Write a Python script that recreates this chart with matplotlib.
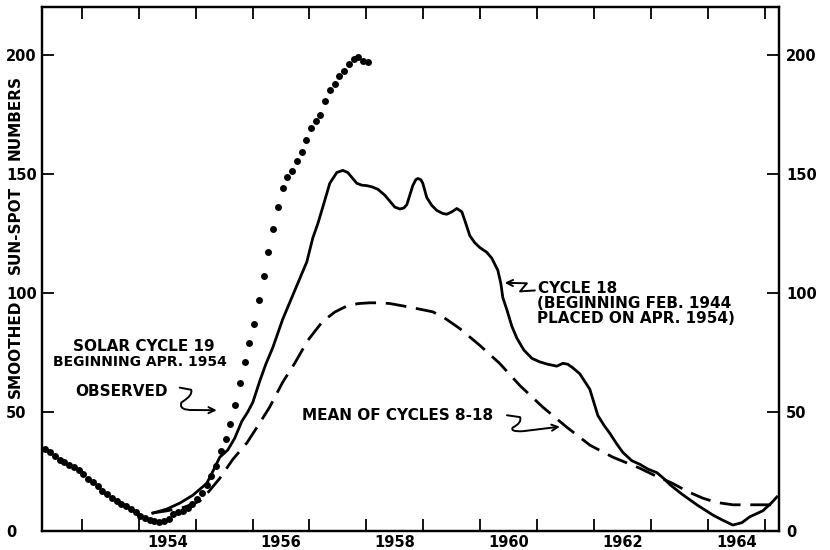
import numpy as np
import matplotlib
matplotlib.use('Agg')
import matplotlib.pyplot as plt
from matplotlib.path import Path
from matplotlib.patches import FancyArrowPatch

# observed smoothed monthly numbers, cycle 19 (monthly from May 1952)
obs_start = 1952.36
observed = [34.5, 33, 31.5, 30, 29, 27.8, 26.7, 25.8, 24, 22, 20.4, 18.7,
            17, 15.5, 13.8, 12.5, 11.2, 10.5, 9.3, 8, 6.5, 5.5, 4.6, 4,
            3.8, 4.3, 5.2, 7, 8, 8.5, 9.5, 11.5, 13.5, 16, 19.3, 23.3,
            27.5, 33.5, 38.5, 45, 53, 62, 71, 79, 87, 97, 107, 117,
            127, 136, 144, 148.5, 151, 155.5, 159, 164, 169, 172, 174.5, 180.5,
            185, 187.5, 191, 193, 196, 198, 199, 197.5, 197]

# cycle 18, shifted to start Apr 1954
c18_year = [1954.246, 1954.492, 1954.721, 1954.949, 1955.195, 1955.301, 1955.424,
            1955.564, 1955.687, 1955.810, 1955.916, 1956.004, 1956.127, 1956.232,
            1956.355, 1956.531, 1956.742, 1956.953, 1957.058, 1957.146, 1957.234,
            1957.357, 1957.480, 1957.585, 1957.673, 1957.743, 1957.831, 1957.919,
            1958.007, 1958.095, 1958.200, 1958.323, 1958.411, 1958.499, 1958.587,
            1958.657, 1958.710, 1958.763, 1958.815, 1958.868, 1958.903, 1958.956,
            1958.991, 1959.061, 1959.149, 1959.237, 1959.343, 1959.413, 1959.501,
            1959.589, 1959.677, 1959.729, 1959.817, 1959.905, 1959.993, 1960.116,
            1960.204, 1960.309, 1960.362, 1960.397, 1960.467, 1960.555, 1960.643,
            1960.766, 1960.907, 1961.047, 1961.188, 1961.346, 1961.451, 1961.540,
            1961.627, 1961.750, 1961.926, 1962.067, 1962.172, 1962.278, 1962.401,
            1962.506, 1962.664, 1962.805, 1962.946, 1963.104, 1963.227, 1963.332,
            1963.543, 1963.807, 1964.088, 1964.264, 1964.439, 1964.598, 1964.739,
            1964.967, 1965.125, 1965.213]
c18_val = [7.5, 9.2, 11.7, 15, 20, 25, 31,
           34, 39, 46, 50, 54, 63, 70,
           77, 89, 101, 113, 123, 129, 136,
           146, 150.5, 151.4, 150.5, 148.5, 146, 145.2,
           145, 144.5, 143.5, 141, 138.5, 136, 135.2,
           135.6, 137, 141, 145, 147.5, 148, 147.5,
           146, 140, 136.7, 134.6, 133.3, 133, 134,
           135.4, 134, 130.4, 124, 121, 119, 117,
           114.5, 109.5, 104, 98, 93, 86, 81,
           76, 72.5, 71, 70, 69.2, 70.4, 70,
           68.5, 66, 59.5, 48.5, 44.5, 41, 36.5,
           33, 29.5, 28, 26, 24.5, 22, 19.5,
           15.5, 11, 6.7, 4.5, 2.5, 3.5, 6,
           8.5, 12, 14.3]

# mean of cycles 8-18
mean_year = [1954.23, 1954.5, 1954.8, 1955.07, 1955.21, 1955.42, 1955.65, 1955.90,
             1956.09, 1956.30, 1956.53, 1956.74, 1956.97, 1957.23, 1957.45, 1957.66,
             1957.86, 1958.06, 1958.25, 1958.41, 1958.76, 1959.17, 1959.40, 1959.64,
             1959.99, 1960.34, 1960.70, 1961.10, 1961.52, 1961.93, 1962.33, 1962.80,
             1963.05, 1963.38, 1963.65, 1963.91, 1964.15, 1964.44, 1965.25]
mean_val = [7.5, 8.5, 10, 12.5, 16, 22, 30, 37,
            44, 52, 62.5, 70.4, 80, 88, 92, 94.5,
            95.5, 95.8, 95.8, 95.5, 94, 92, 89, 85,
            78, 70.4, 61, 52, 43.6, 36, 31, 26.4,
            23.5, 20, 16.5, 13.8, 12, 11, 11]

year_ticks = list(range(1953, 1966))
year_labels = ['1954', '1956', '1958', '1960', '1962', '1964']
y_ticks = [0, 50, 100, 150, 200]
ylabel_words = ['SMOOTHED', 'SUN-SPOT', 'NUMBERS']

plt.rcParams['font.family'] = ['DejaVu Sans']

fig = plt.figure(figsize=(8.3, 5.5), dpi=100)
ax = fig.add_axes([42 / 830, 19 / 550, 737 / 830, 524 / 550])

obs_x = obs_start + np.arange(len(observed)) / 12
ax.plot(obs_x, observed, 'o', color='black', ms=5, mec='none')
ax.plot(c18_year, c18_val, color='black', lw=2.0, solid_joinstyle='round')
ax.plot(mean_year, mean_val, color='black', lw=2.0, dashes=(7.5, 3.5))

ax.set_xlim(1952.30, 1965.25)
ax.set_ylim(0, 220)

for s in ax.spines.values():
    s.set_linewidth(1.6)

tick_font = dict(fontsize=10.5, fontweight='bold')

ax.set_xticks(year_ticks)
ax.set_xticklabels([])
ax.set_xticks([int(l) + 0.5 for l in year_labels], minor=True)
ax.set_xticklabels(year_labels, minor=True, **tick_font)
ax.tick_params(axis='x', which='major', direction='in', top=True, length=8.5, width=1.3)
ax.tick_params(axis='x', which='minor', length=0, pad=3)

ax.set_yticks(y_ticks)
ax.set_yticklabels([str(v) for v in y_ticks], **tick_font)
ax.tick_params(axis='y', direction='in', length=8.5, width=1.3, pad=26)
for lbl in ax.get_yticklabels():
    lbl.set_horizontalalignment('left')

ax2 = ax.twinx()
ax2.set_ylim(0, 220)
ax2.set_yticks(y_ticks)
ax2.set_yticklabels([str(v) for v in y_ticks], **tick_font)
ax2.tick_params(axis='y', direction='in', length=8.5, width=1.3, pad=5)
for s in ax2.spines.values():
    s.set_linewidth(1.6)

# y label words sit between the tick labels, as in the drawing
for word, yc in zip(ylabel_words, [0.347, 0.574, 0.789]):
    ax.text(-0.036, yc, word, transform=ax.transAxes, rotation=90,
            ha='center', va='center', fontsize=11, fontweight='bold')

fs = 11
ax.text(1952.84, 77.4, 'SOLAR CYCLE 19', fontsize=fs, fontweight='bold', va='center')
ax.text(1952.49, 70.9, 'BEGINNING APR. 1954', fontsize=fs - 1, fontweight='bold', va='center')
ax.text(1952.88, 58.5, 'OBSERVED', fontsize=fs, fontweight='bold', va='center')
ax.text(1956.86, 48.6, 'MEAN OF CYCLES 8-18', fontsize=fs, fontweight='bold', va='center')
ax.text(1961.01, 102, 'CYCLE 18', fontsize=fs, fontweight='bold', va='center')
ax.text(1961.0, 95.6, '(BEGINNING FEB. 1944', fontsize=fs, fontweight='bold', va='center')
ax.text(1961.0, 89.3, 'PLACED ON APR. 1954)', fontsize=fs, fontweight='bold', va='center')


def squiggle(verts, codes):
    p = FancyArrowPatch(path=Path(verts, codes), arrowstyle='->', mutation_scale=11,
                        lw=1.4, color='black')
    ax.add_patch(p)


M, L, C = Path.MOVETO, Path.LINETO, Path.CURVE3
squiggle([(1954.72, 60.2), (1954.92, 59.3), (1954.96, 57), (1954.75, 54),
          (1954.70, 50.6), (1954.95, 50.8), (1955.37, 50.7)],
         [M, L, C, C, C, C, L])
squiggle([(1960.47, 48.6), (1960.70, 47.8), (1960.74, 45.5), (1960.57, 43.4),
          (1960.52, 41.6), (1960.75, 41.9), (1961.40, 43.8)],
         [M, L, C, C, C, C, L])
squiggle([(1960.96, 101.0), (1960.70, 100.6), (1960.82, 104.0), (1960.43, 104.2)],
         [M, L, L, L])

fig.savefig('out.png', dpi=100)
